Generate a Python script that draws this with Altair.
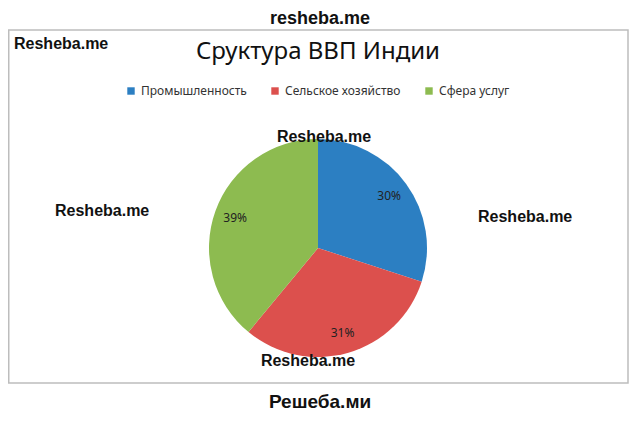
import altair as alt
import pandas as pd

# Data
categories = ["Промышленность", "Сельское хозяйство", "Сфера услуг"]
shares = [30, 31, 39]
labels = ["30%", "31%", "39%"]
colors = ["#2C7FC2", "#DC504D", "#8DBB50"]

title_text = "Сруктура ВВП Индии"

df = pd.DataFrame({
    "category": categories,
    "share": shares,
    "label": labels,
    "order": list(range(len(categories))),
})

one = pd.DataFrame({"k": [0]})

CX, CY, R = 310, 240, 109

base = alt.Chart(df).encode(
    theta=alt.Theta("share:Q", stack=True),
    order=alt.Order("order:Q"),
)

pie = base.mark_arc(radius=R).encode(
    x=alt.value(CX),
    y=alt.value(CY),
    color=alt.Color(
        "category:N",
        sort=categories,
        scale=alt.Scale(domain=categories, range=colors),
        legend=alt.Legend(
            title=None,
            orient="none",
            direction="horizontal",
            legendX=117,
            legendY=77,
            symbolType="square",
            symbolSize=55,
            symbolStrokeWidth=0,
            labelFont="Noto Sans",
            labelFontSize=12,
            labelColor="#333333",
            columnPadding=22,
            labelOffset=4,
        ),
    ),
)

pct = base.mark_text(radius=88, font="Noto Sans", fontSize=12, color="#222222").encode(
    x=alt.value(CX),
    y=alt.value(CY),
    text="label:N",
)

frame = alt.Chart(one).mark_rect(fillOpacity=0, stroke="#BDBDBD", strokeWidth=1.5).encode(
    x=alt.value(0.75), x2=alt.value(620), y=alt.value(22), y2=alt.value(375)
)

title = alt.Chart(one).mark_text(
    text=title_text, font="Noto Sans", fontSize=24, color="#111111", align="center", baseline="middle"
).encode(x=alt.value(310), y=alt.value(44))


def wm(text, x, y, size=16, align="center", font="Liberation Sans"):
    return alt.Chart(one).mark_text(
        text=text, font=font, fontSize=size, fontWeight="bold", color="#111111",
        align=align, baseline="middle",
    ).encode(x=alt.value(x), y=alt.value(y))


marks = [
    wm("resheba.me", 312, 11, size=18),
    wm("Resheba.me", 6, 36, size=16, align="left"),
    wm("Resheba.me", 47, 203, size=16, align="left"),
    wm("Resheba.me", 470, 209, size=16, align="left"),
    wm("Resheba.me", 316, 129, size=16),
    wm("Resheba.me", 300, 353, size=16),
    wm("Решеба.ми", 312, 394, size=19),
]

chart = alt.layer(frame, pie, pct, title, *marks).properties(
    width=624, height=406, autosize="none", padding=0,
).configure_view(stroke=None)

chart.save("out.html", embed_options={"renderer": "svg", "actions": False})
